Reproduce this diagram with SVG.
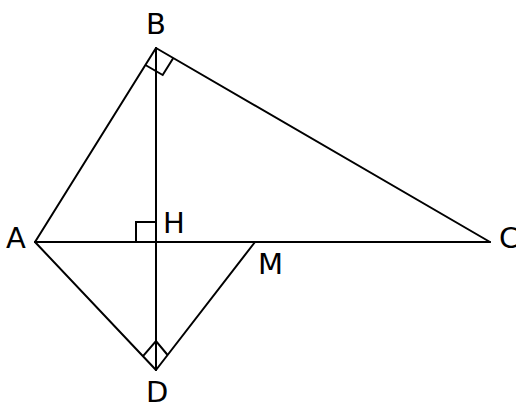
<svg xmlns="http://www.w3.org/2000/svg" width="516" height="403" viewBox="0 0 516 403">
<style>
.l{stroke:#000;stroke-width:2;fill:none;stroke-linecap:round}
.m{stroke:#000;stroke-width:2;fill:none}
text{font-family:"DejaVu Sans","Liberation Sans",sans-serif;font-size:29px;fill:#000}
</style>
<rect width="516" height="403" fill="#fff"/>
<g id="connectors">
<line class="l" x1="156" y1="48" x2="35" y2="242"/>
<line class="l" x1="156" y1="48" x2="490" y2="242"/>
<line class="l" x1="35" y1="242" x2="490" y2="242"/>
<line class="l" x1="156" y1="48" x2="156" y2="370"/>
<line class="l" x1="35" y1="242" x2="156" y2="370"/>
<line class="l" x1="156" y1="370" x2="255" y2="242"/>
<polyline class="m" points="145.4,65 162.7,75 173.3,58"/>
<polyline class="m" points="136,242 136,222 156,222"/>
<polyline class="m" points="143,356.2 156,341 167.6,355"/>
</g>
<g id="B"><text x="146" y="34">B</text></g>
<g id="A"><text x="6" y="248">A</text></g>
<g id="H"><text x="163" y="233">H</text></g>
<g id="M"><text x="258" y="274">M</text></g>
<g id="C"><text x="499" y="248">C</text></g>
<g id="D"><text x="146" y="402">D</text></g>
</svg>
